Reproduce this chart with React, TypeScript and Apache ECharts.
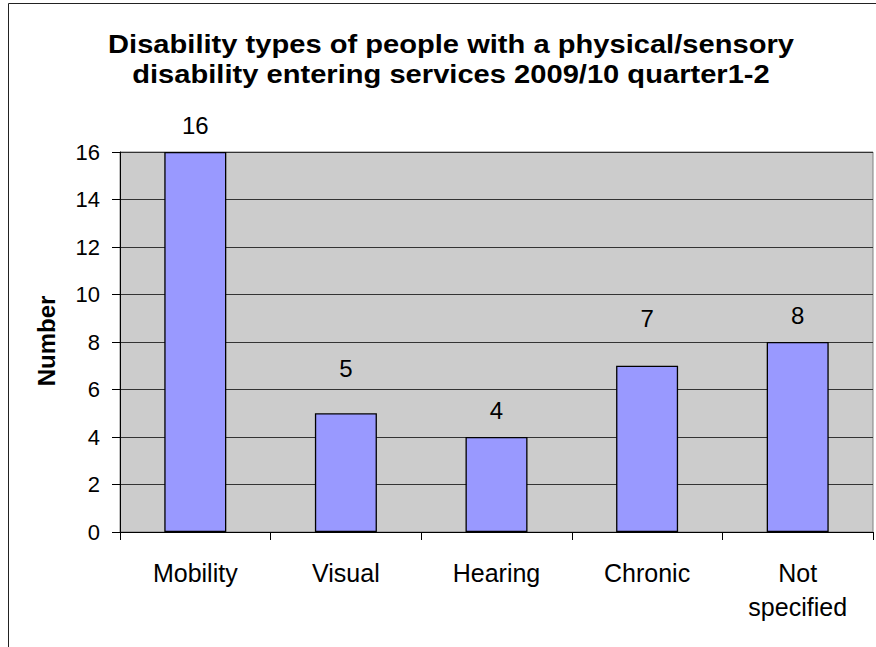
import React, { useEffect, useRef } from "react";
import * as echarts from "echarts";

const categories = ["Mobility", "Visual", "Hearing", "Chronic", "Not\nspecified"];
const counts = [16, 5, 4, 7, 8];
const titleLines = [
  "Disability types of people with a physical/sensory",
  "disability entering services 2009/10 quarter1-2",
];
const yAxisName = "Number";

// Gap between each bar top and its value label (the labels do not sit at a uniform height)
const labelGaps = [14.5, 32.5, 14.5, 35, 14.5];

const FONT = "'Liberation Sans', Arial, Helvetica, sans-serif";

export default function App() {
  const ref = useRef<HTMLDivElement>(null);

  useEffect(() => {
    document.body.style.margin = "0";
    if (!ref.current) return;
    const chart = echarts.init(ref.current, null, { renderer: "svg" });
    const titleText = (text: string, y: number) => ({
      type: "text",
      x: 451,
      y,
      scaleX: 1.12,
      style: {
        text,
        font: `bold 26px ${FONT}`,
        fill: "#000",
        align: "center",
        verticalAlign: "middle",
      },
    });
    chart.setOption({
      animation: false,
      backgroundColor: "#FFFFFF",
      grid: {
        left: 120,
        right: 3,
        top: 152,
        bottom: 115,
        show: true,
        backgroundColor: "#CCCCCC",
        borderColor: "#808080",
        borderWidth: 1,
      },
      graphic: [
        {
          type: "rect",
          silent: true,
          shape: { x: 8.5, y: 3.5, width: 1000, height: 1000 },
          style: { fill: "none", stroke: "#222", lineWidth: 1 },
        },
        titleText(titleLines[0], 44),
        titleText(titleLines[1], 74),
        {
          type: "text",
          x: 46,
          y: 341,
          rotation: Math.PI / 2,
          style: {
            text: yAxisName,
            font: `bold 24px ${FONT}`,
            fill: "#000",
            align: "center",
            verticalAlign: "middle",
          },
        },
      ],
      xAxis: {
        type: "category",
        data: categories,
        axisLine: { show: true, lineStyle: { color: "#000", width: 1 } },
        axisTick: { show: true, length: 8, lineStyle: { color: "#000" } },
        axisLabel: {
          color: "#000",
          fontFamily: FONT,
          fontSize: 25,
          lineHeight: 34,
          margin: 24,
          interval: 0,
        },
      },
      yAxis: {
        type: "value",
        min: 0,
        max: 16,
        interval: 2,
        axisLine: { show: true, lineStyle: { color: "#000", width: 1 } },
        axisTick: { show: true, length: 8, lineStyle: { color: "#000" } },
        axisLabel: { color: "#000", fontFamily: FONT, fontSize: 22, margin: 20 },
        splitLine: { show: true, lineStyle: { color: "#333", width: 1 } },
      },
      series: [
        {
          type: "bar",
          data: counts.map((v, i) => ({
            value: v,
            label: { distance: labelGaps[i] },
          })),
          barWidth: 62,
          itemStyle: { color: "#9999FF", borderColor: "#000", borderWidth: 1.3 },
          label: {
            show: true,
            position: "top",
            color: "#000",
            fontFamily: FONT,
            fontSize: 24,
          },
        },
      ],
    });
    return () => chart.dispose();
  }, []);

  return <div ref={ref} style={{ width: 876, height: 647 }} />;
}
